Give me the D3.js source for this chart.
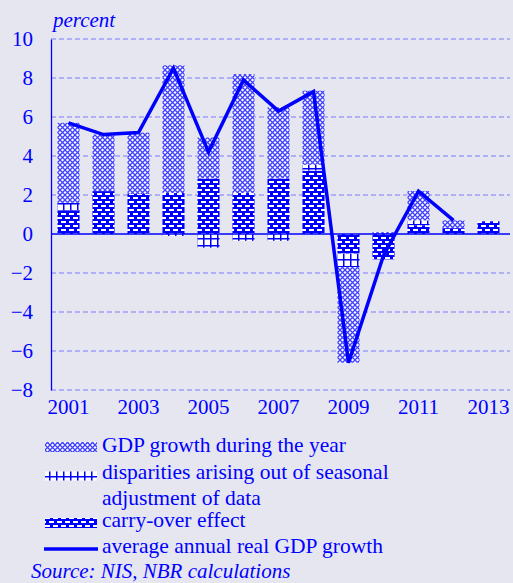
<!DOCTYPE html>
<html>
<head>
<meta charset="utf-8">
<script src="https://cdn.jsdelivr.net/npm/d3@7"></script>
<style>
  body { margin: 0; background: #e6e6f0; }
  text { font-family: "Liberation Serif", "Times New Roman", serif; fill: #0000ff; }
</style>
</head>
<body>
<svg width="513" height="583"></svg>
<script>
const svg = d3.select('svg');
const width  = +svg.attr('width');
const height = +svg.attr('height');

// Data (percent)
const years        = [2001, 2002, 2003, 2004, 2005, 2006, 2007, 2008, 2009, 2010, 2011, 2012, 2013];
const carryOver    = [1.2, 2.2, 2.05, 2.1, 2.85, 2.1, 2.85, 3.25, -1.0, -1.3, 0.45, 0.3, 0.65];
const disparities  = [0.4, 0, 0, -0.1, -0.7, -0.35, -0.35, 0.3, -0.7, 0, 0.25, 0, 0];
const duringYear   = [4.1, 2.9, 3.15, 6.55, 2.1, 6.1, 3.65, 3.8, -4.9, 0.1, 1.5, 0.4, 0];
const lineYears    = [2001, 2002, 2003, 2004, 2005, 2006, 2007, 2008, 2009, 2010, 2011, 2012];
const avgGrowth    = [5.7, 5.1, 5.2, 8.5, 4.2, 7.9, 6.3, 7.3, -6.6, -1.1, 2.2, 0.7];
const yTicks       = [10, 8, 6, 4, 2, 0, -2, -4, -6, -8];
const xLabels      = [2001, 2003, 2005, 2007, 2009, 2011, 2013];

const blue = '#0000ff';

svg.append('rect').attr('width', width).attr('height', height).attr('fill', '#e6e6f0');

/** patterns */
const defs = svg.append('defs');

const pGrowth = defs.append('pattern').attr('id', 'p-growth')
  .attr('patternUnits', 'userSpaceOnUse').attr('width', 5).attr('height', 5);
pGrowth.append('rect').attr('width', 5).attr('height', 5).attr('fill', '#ffffff');
pGrowth.append('path').attr('d', 'M0,0L5,5M5,0L0,5')
  .attr('stroke', '#4040ff').attr('stroke-width', 1.3);

const pDisp = defs.append('pattern').attr('id', 'p-disp')
  .attr('patternUnits', 'userSpaceOnUse').attr('width', 7).attr('height', 7);
pDisp.append('rect').attr('width', 7).attr('height', 7).attr('fill', '#ffffff');
pDisp.append('path').attr('d', 'M0.75,0V7M0,0.75H7')
  .attr('stroke', blue).attr('stroke-width', 1.5);

const pCarry = defs.append('pattern').attr('id', 'p-carry')
  .attr('patternUnits', 'userSpaceOnUse').attr('width', 8).attr('height', 8);
pCarry.append('rect').attr('width', 8).attr('height', 8).attr('fill', blue);
pCarry.append('rect').attr('x', 1).attr('y', 1).attr('width', 5).attr('height', 2).attr('fill', '#ffffff');
pCarry.append('rect').attr('x', 5).attr('y', 5).attr('width', 5).attr('height', 2).attr('fill', '#ffffff');
pCarry.append('rect').attr('x', -3).attr('y', 5).attr('width', 5).attr('height', 2).attr('fill', '#ffffff');

/** scales */
const xScale = d3.scaleBand()
  .domain(years)
  .range([51, 506])
  .paddingInner(0.37)
  .paddingOuter(0.185);

const yScale = d3.scaleLinear()
  .domain([-8, 10])
  .range([390, 39]);

const plotRight = 510;

// grid lines
svg.append('g').selectAll('line')
  .data(yTicks.filter(d => d !== 0))
  .enter().append('line')
    .attr('x1', 51).attr('x2', plotRight)
    .attr('y1', d => yScale(d)).attr('y2', d => yScale(d))
    .attr('stroke', '#7a7aff').attr('stroke-width', 1.2)
    .attr('stroke-dasharray', '5,3');

// y axis
const yAxis = d3.axisLeft(yScale).tickValues(yTicks).tickSize(0).tickPadding(18);
const yAxisG = svg.append('g').attr('transform', 'translate(51,0)').call(yAxis);
yAxisG.select('.domain').attr('stroke', blue).attr('stroke-width', 1.3);
yAxisG.selectAll('text')
  .style('font-size', '21px').attr('fill', blue)
  .attr('font-family', '"Liberation Serif", serif');

// x labels
const xAxis = d3.axisBottom(xScale).tickValues(xLabels).tickSize(0).tickPadding(9);
const xAxisG = svg.append('g').attr('transform', 'translate(0,390)').call(xAxis);
xAxisG.select('.domain').remove();
xAxisG.selectAll('text')
  .style('font-size', '21px').attr('fill', blue)
  .attr('font-family', '"Liberation Serif", serif');

// stacked bars
const table = years.map((y, i) => ({
  year: y, carry: carryOver[i], disp: disparities[i], growth: duringYear[i]
}));
const stack = d3.stack()
  .keys(['carry', 'disp', 'growth'])
  .offset(d3.stackOffsetDiverging);
const stacked = stack(table);
const fills = { carry: 'url(#p-carry)', disp: 'url(#p-disp)', growth: 'url(#p-growth)' };

svg.append('g').selectAll('g').data(stacked)
  .enter().append('g')
    .attr('fill', d => fills[d.key])
  .selectAll('rect').data(d => d)
    .enter().append('rect')
      .attr('x', d => xScale(d.data.year))
      .attr('y', d => yScale(Math.max(d[0], d[1])))
      .attr('height', d => Math.abs(yScale(d[0]) - yScale(d[1])))
      .attr('width', xScale.bandwidth());

// zero line
svg.append('line')
  .attr('x1', 51).attr('x2', plotRight)
  .attr('y1', yScale(0)).attr('y2', yScale(0))
  .attr('stroke', blue).attr('stroke-width', 1.3);

// average annual growth line
const line = d3.line()
  .x((d, i) => xScale(lineYears[i]) + xScale.bandwidth() / 2)
  .y(d => yScale(d));
svg.append('path')
  .datum(avgGrowth)
  .attr('d', line)
  .attr('fill', 'none')
  .attr('stroke', blue)
  .attr('stroke-width', 3.5)
  .attr('stroke-linejoin', 'miter');

// unit label
svg.append('text')
  .attr('x', 53).attr('y', 27)
  .style('font-size', '21px').style('font-style', 'italic')
  .text('percent');

/** legend */
const legend = svg.append('g');
const swX = 45, swW = 52, txX = 102;

legend.append('rect').attr('x', swX).attr('y', 442).attr('width', swW).attr('height', 10)
  .attr('fill', 'url(#p-growth)');
legend.append('rect').attr('x', swX).attr('y', 471.5).attr('width', swW).attr('height', 9)
  .attr('fill', 'url(#p-disp)');
legend.append('rect').attr('x', swX).attr('y', 518).attr('width', swW).attr('height', 10)
  .attr('fill', 'url(#p-carry)');
legend.append('line').attr('x1', swX - 1).attr('x2', swX + swW + 1)
  .attr('y1', 549).attr('y2', 549)
  .attr('stroke', blue).attr('stroke-width', 3.5);

const legendTexts = [
  ['GDP growth during the year', 452],
  ['disparities arising out of seasonal', 479],
  ['adjustment of data', 505],
  ['carry-over effect', 527],
  ['average annual real GDP growth', 553]
];
legend.selectAll('text.lg').data(legendTexts)
  .enter().append('text')
    .attr('class', 'lg')
    .attr('x', txX).attr('y', d => d[1])
    .style('font-size', '21.5px')
    .text(d => d[0]);

svg.append('text')
  .attr('x', 31).attr('y', 578)
  .style('font-size', '21px').style('font-style', 'italic')
  .text('Source: NIS, NBR calculations');
</script>
</body>
</html>
